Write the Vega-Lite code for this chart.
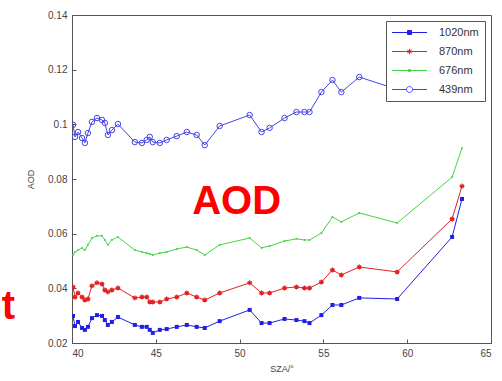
{
  "$schema": "https://vega.github.io/schema/vega-lite/v6.json",
  "width": 419,
  "height": 328,
  "autosize": {"type": "none"},
  "padding": {"left": 72, "top": 15, "right": 11, "bottom": 38},
  "background": "white",
  "config": {
    "view": {"stroke": "#555", "strokeWidth": 1},
    "axis": {
      "grid": false,
      "domainColor": "#555",
      "tickColor": "#555",
      "labelColor": "#444",
      "titleColor": "#444",
      "labelFont": "Liberation Sans",
      "titleFont": "Liberation Sans",
      "labelFontSize": 10,
      "titleFontSize": 9,
      "titleFontWeight": "normal",
      "tickSize": -4,
      "labelPadding": 9
    }
  },
  "datasets": {
    "aod": [
      {"sza": 40.06, "1020nm": 0.0299, "870nm": 0.0405, "676nm": 0.0522, "439nm": 0.0998},
      {"sza": 40.18, "1020nm": 0.0262, "870nm": 0.0368, "676nm": 0.0533, "439nm": 0.0954},
      {"sza": 40.36, "1020nm": 0.0277, "870nm": 0.0383, "676nm": 0.0540, "439nm": 0.0972},
      {"sza": 40.60, "1020nm": 0.0255, "870nm": 0.0368, "676nm": 0.0548, "439nm": 0.0950},
      {"sza": 40.77, "1020nm": 0.0248, "870nm": 0.0357, "676nm": 0.0540, "439nm": 0.0932},
      {"sza": 40.95, "1020nm": 0.0259, "870nm": 0.0361, "676nm": 0.0559, "439nm": 0.0968},
      {"sza": 41.19, "1020nm": 0.0291, "870nm": 0.0409, "676nm": 0.0584, "439nm": 0.1009},
      {"sza": 41.49, "1020nm": 0.0302, "870nm": 0.0420, "676nm": 0.0592, "439nm": 0.1023},
      {"sza": 41.79, "1020nm": 0.0299, "870nm": 0.0416, "676nm": 0.0592, "439nm": 0.1016},
      {"sza": 41.96, "1020nm": 0.0284, "870nm": 0.0394, "676nm": 0.0577, "439nm": 0.1005},
      {"sza": 42.14, "1020nm": 0.0266, "870nm": 0.0387, "676nm": 0.0559, "439nm": 0.0961},
      {"sza": 42.38, "1020nm": 0.0277, "870nm": 0.0394, "676nm": 0.0577, "439nm": 0.0979},
      {"sza": 42.74, "1020nm": 0.0295, "870nm": 0.0401, "676nm": 0.0588, "439nm": 0.1001},
      {"sza": 43.75, "1020nm": 0.0266, "870nm": 0.0365, "676nm": 0.0540, "439nm": 0.0935},
      {"sza": 44.17, "1020nm": 0.0259, "870nm": 0.0368, "676nm": 0.0533, "439nm": 0.0932},
      {"sza": 44.46, "1020nm": 0.0259, "870nm": 0.0368, "676nm": 0.0529, "439nm": 0.0943},
      {"sza": 44.64, "1020nm": 0.0248, "870nm": 0.0350, "676nm": 0.0526, "439nm": 0.0954},
      {"sza": 44.82, "1020nm": 0.0237, "870nm": 0.0350, "676nm": 0.0522, "439nm": 0.0935},
      {"sza": 45.24, "1020nm": 0.0248, "870nm": 0.0350, "676nm": 0.0529, "439nm": 0.0932},
      {"sza": 45.65, "1020nm": 0.0251, "870nm": 0.0361, "676nm": 0.0533, "439nm": 0.0943},
      {"sza": 46.25, "1020nm": 0.0259, "870nm": 0.0368, "676nm": 0.0544, "439nm": 0.0957},
      {"sza": 46.85, "1020nm": 0.0266, "870nm": 0.0383, "676nm": 0.0551, "439nm": 0.0972},
      {"sza": 47.44, "1020nm": 0.0259, "870nm": 0.0368, "676nm": 0.0540, "439nm": 0.0961},
      {"sza": 47.92, "1020nm": 0.0255, "870nm": 0.0357, "676nm": 0.0522, "439nm": 0.0924},
      {"sza": 48.81, "1020nm": 0.0280, "870nm": 0.0383, "676nm": 0.0559, "439nm": 0.0994},
      {"sza": 50.60, "1020nm": 0.0321, "870nm": 0.0420, "676nm": 0.0584, "439nm": 0.1034},
      {"sza": 51.31, "1020nm": 0.0273, "870nm": 0.0383, "676nm": 0.0548, "439nm": 0.0972},
      {"sza": 51.79, "1020nm": 0.0273, "870nm": 0.0383, "676nm": 0.0555, "439nm": 0.0987},
      {"sza": 52.68, "1020nm": 0.0288, "870nm": 0.0401, "676nm": 0.0573, "439nm": 0.1023},
      {"sza": 53.39, "1020nm": 0.0284, "870nm": 0.0405, "676nm": 0.0581, "439nm": 0.1045},
      {"sza": 53.87, "1020nm": 0.0280, "870nm": 0.0401, "676nm": 0.0577, "439nm": 0.1045},
      {"sza": 54.17, "1020nm": 0.0273, "870nm": 0.0401, "676nm": 0.0577, "439nm": 0.1045},
      {"sza": 54.88, "1020nm": 0.0302, "870nm": 0.0423, "676nm": 0.0602, "439nm": 0.1118},
      {"sza": 55.54, "1020nm": 0.0339, "870nm": 0.0467, "676nm": 0.0661, "439nm": 0.1162},
      {"sza": 56.07, "1020nm": 0.0339, "870nm": 0.0449, "676nm": 0.0643, "439nm": 0.1118},
      {"sza": 57.14, "1020nm": 0.0365, "870nm": 0.0478, "676nm": 0.0676, "439nm": 0.1173},
      {"sza": 59.40, "1020nm": 0.0361, "870nm": 0.0460, "676nm": 0.0639, "439nm": 0.1128},
      {"sza": 62.68, "1020nm": 0.0588, "870nm": 0.0654, "676nm": 0.0807, "439nm": 0.1160},
      {"sza": 63.27, "1020nm": 0.0727, "870nm": 0.0774, "676nm": 0.0913, "439nm": 0.1190}
    ]
  },
  "layer": [
    {
      "data": {"name": "aod"},
      "transform": [{"fold": ["1020nm", "870nm", "676nm", "439nm"], "as": ["band", "aod"]}],
      "encoding": {
        "x": {
          "field": "sza", "type": "quantitative",
          "scale": {"domain": [40, 65], "nice": false, "zero": false},
          "axis": {"values": [40, 45, 50, 55, 60, 65], "title": "SZA/°", "titlePadding": 6}
        },
        "y": {
          "field": "aod", "type": "quantitative",
          "scale": {"domain": [0.02, 0.14], "nice": false, "zero": false},
          "axis": {"values": [0.02, 0.04, 0.06, 0.08, 0.1, 0.12, 0.14], "format": ".2~f", "title": "AOD", "titlePadding": 12}
        }
      },
      "layer": [
        {
          "mark": {"type": "line", "strokeWidth": 1, "clip": true},
          "encoding": {
            "color": {
              "field": "band", "type": "nominal",
              "scale": {"domain": ["1020nm", "870nm", "676nm", "439nm"], "range": ["#1f1fe8", "#e42020", "#44d444", "#4444e8"]},
              "legend": {
                "title": null,
                "orient": "top-right",
                "offset": 6,
                "fillColor": "white",
                "strokeColor": "#555",
                "padding": 6,
                "labelFont": "Liberation Sans",
                "labelFontSize": 11,
                "labelColor": "#333",
                "symbolSize": 100,
                "symbolOffset": 12,
                "labelOffset": 24,
                "rowPadding": 7,
                "symbolStrokeWidth": 1,
                "encode": {
                  "symbols": {
                    "update": {
                      "shape": {"signal": "datum.value === '1020nm' ? 'M-3.5,0H3.5M-0.4,-0.4H0.4V0.4H-0.4Z' : datum.value === '870nm' ? 'M-3.5,0H3.5M0,-0.55V0.55M-0.45,-0.3L0.45,0.3M-0.45,0.3L0.45,-0.3' : datum.value === '676nm' ? 'M-3.5,0H3.5M-0.2,-0.2H0.2V0.2H-0.2Z' : 'M-3.5,0H-0.6M0.6,0H3.5M0.6,0A0.6,0.6,0,1,1,-0.6,0A0.6,0.6,0,1,1,0.6,0Z'"},
                      "fill": {"signal": "datum.value === '1020nm' ? '#1f1fe8' : datum.value === '870nm' ? '#e42020' : datum.value === '676nm' ? '#44d444' : 'transparent'"}
                    }
                  }
                }
              }
            }
          }
        },
        {
          "transform": [{"filter": "datum.band === '1020nm'"}],
          "mark": {"type": "point", "shape": "square", "filled": true, "size": 16, "color": "#1f1fe8", "opacity": 1, "clip": true}
        },
        {
          "transform": [{"filter": "datum.band === '870nm'"}],
          "mark": {"type": "point", "shape": "M-1,0H1M0,-1V1M-0.75,-0.6L0.75,0.6M-0.75,0.6L0.75,-0.6", "filled": false, "size": 25, "strokeWidth": 1.2, "color": "#e42020", "opacity": 1, "clip": true}
        },
        {
          "transform": [{"filter": "datum.band === '676nm'"}],
          "mark": {"type": "point", "shape": "circle", "filled": true, "size": 4, "color": "#44d444", "opacity": 1, "clip": true}
        },
        {
          "transform": [{"filter": "datum.band === '439nm'"}],
          "mark": {"type": "point", "shape": "circle", "filled": false, "size": 30, "strokeWidth": 1, "color": "#4444e8", "opacity": 1, "clip": true}
        }
      ]
    },
    {
      "data": {"values": [{}]},
      "mark": {"type": "text", "text": "AOD", "font": "Liberation Sans", "fontWeight": "bold", "fontSize": 40, "color": "#ff0000", "align": "center", "baseline": "middle"},
      "encoding": {
        "x": {"datum": 49.82, "type": "quantitative"},
        "y": {"datum": 0.0715, "type": "quantitative"}
      }
    },
    {
      "data": {"values": [{}]},
      "mark": {"type": "text", "text": "t", "font": "Liberation Sans", "fontWeight": "bold", "fontSize": 40, "color": "#ff0000", "align": "center", "baseline": "middle"},
      "encoding": {
        "x": {"datum": 36.2, "type": "quantitative"},
        "y": {"datum": 0.0332, "type": "quantitative"}
      }
    }
  ]
}
